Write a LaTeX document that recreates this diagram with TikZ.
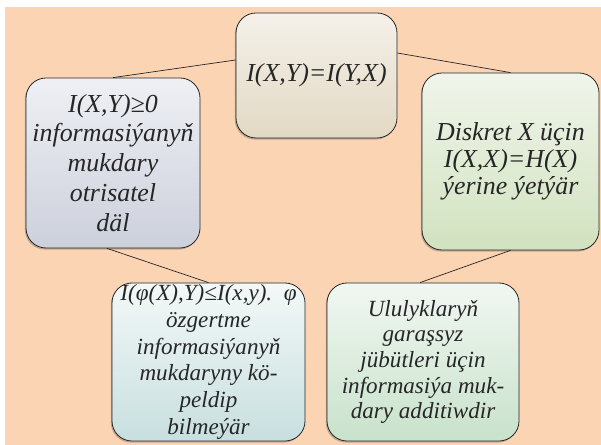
\documentclass[tikz,border=0pt]{standalone}
\usepackage{fontspec}
\setmainfont{Liberation Serif}[ItalicFont={Liberation Serif Italic}, BoldFont={Liberation Serif Bold}]
\newfontfamily\boxfont{Liberation Serif}
\usetikzlibrary{shadows}
\definecolor{bg}{HTML}{FBD4B4}
\definecolor{txt}{HTML}{262626}
\definecolor{tT}{HTML}{F5F1EA}
\definecolor{tB}{HTML}{E2D9C4}
\definecolor{lT}{HTML}{EEF0F4}
\definecolor{lB}{HTML}{CCD0DB}
\definecolor{rT}{HTML}{F0F5EB}
\definecolor{rB}{HTML}{D1E2BF}
\definecolor{blT}{HTML}{F3F8F8}
\definecolor{blB}{HTML}{C8DFDF}
\definecolor{brT}{HTML}{F1F7F2}
\definecolor{brB}{HTML}{C8E2CB}
\begin{document}
\begin{tikzpicture}[x=1bp,y=-1bp,
  box/.style={draw=black!85, line width=0.8bp, rounded corners=20bp, align=center,
    inner sep=0pt, text=txt,
    drop shadow={shadow xshift=-1.2bp, shadow yshift=-1.6bp, opacity=0.3, fill=black!75}},
  big/.style={font=\boxfont\itshape\fontsize{26}{#1}\selectfont},
  small/.style={font=\boxfont\itshape\fontsize{23.2}{#1}\selectfont},
  link/.style={draw=black!85, line width=0.7bp}]
\useasboundingbox (0,0) rectangle (601,445);
\fill[bg] (5,7) rectangle (601,445);

\node[box, big=30, top color=tT, bottom color=tB,
  minimum width=161bp, minimum height=125bp] (T) at (316.5,75.5) {I(X,Y)=I(Y,X)};
\node[box, big=30, top color=lT, bottom color=lB,
  minimum width=174bp, minimum height=170bp] (L) at (113,163)
  {I(X,Y)≥0\\informasiýanyň\\mukdary\\otrisatel\\däl};
\node[box, big=27, top color=rT, bottom color=rB,
  minimum width=177bp, minimum height=177bp] (R) at (510.5,161.5)
  {Diskret X üçin\\I(X,X)=H(X)\\ýerine ýetýär};
\node[box, small=27, top color=blT, bottom color=blB,
  minimum width=193bp, minimum height=158bp] (BL) at (208.5,362)
  {I(φ(X),Y)≤I(x,y).\ \ φ\\özgertme\\informasiýanyň\\mukdaryny kö-\\peldip\\bilmeýär};
\node[box, small=25.75, top color=brT, bottom color=brB,
  minimum width=192bp, minimum height=158bp] (BR) at (423,362)
  {Ululyklaryň\\garaşsyz\\jübütleri üçin\\informasiýa muk-\\dary additiwdir};

\draw[link] ([yshift=15.5bp]T.west) -- (L.north);
\draw[link] ([yshift=22.5bp]T.east) -- (R.north);
\draw[link] ([xshift=-6bp]L.south) -- (BL.north);
\draw[link] (R.south) -- ([xshift=-3bp]BR.north);
\end{tikzpicture}
\end{document}
